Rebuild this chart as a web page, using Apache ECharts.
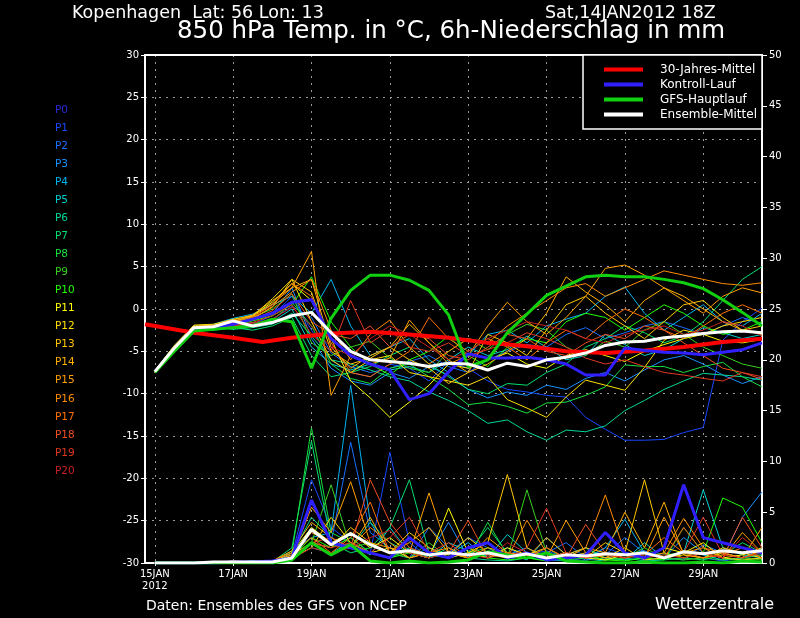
<!DOCTYPE html>
<html>
<head>
<meta charset="utf-8">
<script src="https://cdn.jsdelivr.net/npm/echarts@6/dist/echarts.min.js"></script>
<style>
  html, body { margin: 0; padding: 0; background: #000; }
  #chart { width: 800px; height: 618px; }
</style>
</head>
<body>
<div id="chart"></div>
<script>
/* GFS ensemble plume for Kopenhagen: 850 hPa temperature + 6h precipitation */
const FONT = "DejaVu Sans";

// time in days after 15JAN 00Z, 12-hourly
const days = [0, 0.5, 1, 1.5, 2, 2.5, 3, 3.5, 4, 4.5, 5, 5.5, 6, 6.5, 7, 7.5,
  8, 8.5, 9, 9.5, 10, 10.5, 11, 11.5, 12, 12.5, 13, 13.5, 14, 14.5, 15, 15.5];
const tickDays = [0, 2, 4, 6, 8, 10, 12, 14];
const tickLabels = ["15JAN\n2012", "17JAN", "19JAN", "21JAN", "23JAN", "25JAN", "27JAN", "29JAN"];

const memberColors = ["#2828d8", "#1848ff", "#1870ff", "#1890ff", "#00b4f0", "#00d0d0", "#00d898",
  "#00e070", "#18e040", "#38d020", "#20ff00", "#ffff00", "#ffe000", "#ffc800", "#ffb000",
  "#ffa000", "#ff8c00", "#ff7000", "#f05020", "#e03820", "#c82020"];

// 850 hPa temperature per member P0..P20 (°C)
const memberTemp = [
  [-7.4,-4.8,-2.3,-2.2,-1.8,-1.2,-0.5,0.8, 1.1,-3.5,-5.5,-6.5,-7.2,-10.7,-10.0,-7.4, -5.3,-5.8,-5.8,-5.7,-6.0,-6.5,-7.8,-7.8, -4.6,-4.9,-5.1,-5.2,-5.4,-5.1,-4.8,-4.0],
  [-7.3,-4.5,-2.0,-1.9,-2.3,-1.8,-0.8,1.5, -2.5,-6.0,-7.5,-8.0,-6.5,-7.0,-8.5,-6.2, -7.0,-8.5,-9.5,-9.8,-10.2,-10.4,-12.8,-14.2, -15.5,-15.5,-15.4,-14.6,-14.0,-3.7,-1.5,0.1],
  [-7.5,-4.7,-2.4,-2.0,-1.6,-1.9,-1.2,0.3, -1.0,-5.2,-6.8,-7.5,-7.0,-6.2,-5.5,-6.8, -7.5,-6.0,-5.0,-4.2,-4.5,-3.0,-2.2,-3.5, -2.8,-2.0,-1.5,-2.2,-3.0,-2.0,-1.0,-1.8],
  [-7.4,-4.4,-2.1,-2.3,-1.7,-1.3,-0.6,2.5, -3.5,-7.0,-8.5,-9.0,-7.5,-8.2,-6.8,-7.8, -9.5,-10.5,-9.8,-10.2,-9.0,-9.5,-8.2,-7.5, -8.5,-7.2,-6.0,-5.5,-6.5,-7.8,-8.8,-8.0],
  [-7.3,-4.3,-2.0,-1.8,-1.1,-0.6,0.5,1.5, -0.5,3.5,-2.0,-5.5,-4.5,-3.5,-6.0,-7.5, -5.5,-3.0,-2.5,-4.0,-2.0,-1.2,-0.5,1.5, 2.6,-0.5,-2.5,-1.0,0.5,-1.5,-2.0,-0.5],
  [-7.4,-4.6,-2.5,-2.4,-2.1,-1.6,-1.5,0.0, -4.5,-6.5,-7.2,-6.5,-7.2,-6.8,-7.5,-6.0, -4.5,-5.5,-4.8,-3.2,-4.5,-6.0,-5.5,-3.0, -4.2,-5.5,-4.8,-3.5,-2.2,-2.8,-3.5,-3.0],
  [-7.4,-4.5,-2.4,-2.2,-2.4,-2.2,-1.8,-0.5, -3.2,-6.0,-6.5,-7.2,-8.0,-8.5,-9.8,-10.8, -12.0,-13.5,-13.1,-14.5,-15.5,-14.3,-14.5,-13.8, -12.0,-10.8,-9.5,-8.5,-7.6,-7.8,-8.0,-8.4],
  [-7.5,-4.8,-2.6,-2.5,-2.2,-2.5,-2.0,-1.0, -5.5,-8.0,-7.5,-6.8,-5.5,-4.5,-6.5,-8.0, -9.5,-10.0,-8.8,-9.0,-7.5,-6.5,-4.5,-3.5, -2.0,-2.8,-4.0,-3.2,-1.5,1.0,3.5,5.0],
  [-7.4,-4.7,-2.3,-2.4,-2.0,-1.8,-1.4,0.8, -2.0,-6.5,-8.2,-8.8,-7.0,-6.5,-8.0,-9.5, -11.3,-11.0,-11.5,-12.3,-11.1,-11.0,-10.2,-9.2, -6.6,-6.8,-6.8,-7.5,-6.8,-6.3,-8.0,-9.2],
  [-7.3,-4.4,-2.1,-2.0,-1.5,-1.0,0.0,1.8, -4.0,-5.5,-4.5,-3.8,-5.8,-7.0,-7.5,-5.0, -3.5,-4.8,-3.0,-1.8,-2.5,-4.5,-5.5,-3.8, -4.5,-2.5,-1.5,-3.0,-4.5,-5.5,-6.5,-7.0],
  [-7.5,-4.9,-2.6,-2.2,-2.0,-1.4,-0.8,0.5, 3.8,-1.5,-4.5,-6.5,-7.8,-6.0,-5.0,-3.2, -5.5,-6.8,-4.5,-3.5,-4.0,-1.5,-0.5,-1.0, -2.5,-1.0,0.5,-0.5,-2.0,-3.0,-2.5,-1.5],
  [-7.4,-4.6,-2.2,-2.0,-1.5,-0.8,0.8,3.0, 1.0,-3.5,-8.5,-10.5,-12.8,-11.0,-9.0,-6.5, -7.0,-6.0,-5.2,-6.5,-7.0,-5.5,-4.8,-5.5, -6.2,-5.0,-4.2,-3.5,-3.0,-3.8,-4.0,-3.6],
  [-7.3,-4.3,-1.9,-1.8,-1.2,-0.8,1.2,3.5, -1.5,-6.0,-7.5,-6.0,-5.5,-7.5,-8.0,-8.5, -9.0,-8.0,-10.7,-11.7,-12.8,-10.4,-8.4,-9.0, -9.6,-6.9,-3.7,-2.5,-3.0,-2.0,-1.5,-1.0],
  [-7.5,-4.7,-2.4,-2.2,-1.6,-1.1,0.2,3.5, 2.0,-5.0,-6.5,-5.8,-4.5,-6.0,-7.0,-8.8, -7.5,-3.0,-4.0,-5.5,-2.5,0.5,1.5,-0.5, -2.0,-3.5,-1.5,0.5,1.0,-1.0,-2.5,-2.0],
  [-7.4,-4.5,-2.0,-1.9,-1.3,-0.7,1.0,2.5, 3.5,-4.5,-7.0,-5.5,-4.5,-1.8,-4.0,-6.0, -7.5,-6.5,-5.0,-3.5,-0.5,3.8,2.0,0.5, -1.5,1.0,2.5,1.5,0.0,-1.5,-2.5,-3.0],
  [-7.4,-4.5,-2.2,-2.0,-1.4,-0.9,0.6,2.5, 6.8,-10.2,-5.5,-6.5,-5.8,-1.3,-4.0,-6.5, -5.5,-2.0,0.8,-1.5,-3.0,-1.0,1.5,4.8, 5.2,4.0,2.5,1.0,-0.5,1.5,2.5,1.9],
  [-7.5,-4.6,-2.3,-2.1,-1.5,-1.2,0.3,2.0, 3.5,-2.5,-6.0,-3.0,-1.3,-4.5,-6.5,-5.0, -3.5,-4.0,-2.0,-0.5,1.0,2.5,3.0,1.5, 2.5,3.5,4.5,4.0,3.5,3.0,2.8,3.1],
  [-7.4,-4.4,-2.1,-2.0,-1.6,-1.0,0.5,3.0, 1.5,-4.0,-7.5,-8.0,-6.5,-5.0,-1.0,-3.5, -5.0,-3.5,-4.5,-6.0,-4.0,-2.5,-3.5,-1.5, 0.0,-1.0,-2.5,-3.5,-2.0,-0.5,0.5,-0.5],
  [-7.3,-4.5,-2.2,-2.1,-1.6,-1.3,-0.2,1.8, -1.5,-3.0,-3.5,-2.0,-4.5,-3.0,-3.5,-5.5, -6.0,-4.5,-3.0,-3.5,-5.0,-5.5,-4.0,-3.0, -3.5,-2.0,-2.5,-4.0,-5.5,-7.0,-7.5,-8.3],
  [-7.4,-4.6,-2.4,-2.3,-1.9,-1.6,-0.8,0.5, -3.0,-5.0,1.0,-4.0,-2.5,-4.5,-5.0,-4.0, -5.5,-4.8,-4.0,-2.8,-3.5,-4.5,-5.8,-6.5, -6.0,-6.8,-7.5,-7.8,-8.2,-8.5,-7.5,-8.0],
  [-7.5,-4.7,-2.5,-2.3,-2.0,-1.7,-1.2,0.2, -2.0,-4.5,-5.5,-3.5,-2.0,-3.0,-4.5,-6.0, -5.0,-3.5,-2.5,-1.5,-2.0,-2.5,-3.5,-4.0, -3.0,-2.5,-2.0,-3.0,-2.5,-1.5,-2.0,-3.2],
];

// 6h precipitation per member P0..P20 (mm)
const memberPrecip = [
  [0,0,0,0,0.1,0.1,0.2,0.5, 6.0,2.0,1.5,1.0,0.5,2.5,1.0,0.5, 1.5,2.0,0.5,1.0,0.3,0.5,0.8,3.0, 1.0,0.5,1.5,7.7,2.5,2.0,1.5,1.0],
  [0,0,0,0,0,0.2,0.1,0.8, 8.2,3.5,2.0,1.0,10.9,2.0,0.5,1.0, 2.5,1.5,0.3,0.8,1.2,0.5,0.2,1.5, 0.8,0.3,0.5,1.0,0.5,0.2,0.5,1.5],
  [0,0,0,0,0.1,0,0.2,1.0, 3.0,2.0,11.9,3.0,1.5,0.5,3.5,1.5, 0.5,0.8,1.5,0.5,1.0,2.0,0.5,0.8, 2.5,1.0,0.5,0.3,1.8,1.0,0.5,0.8],
  [0,0,0,0,0,0.1,0.1,0.6, 2.0,1.5,2.5,1.0,0.5,1.5,0.8,4.0, 0.5,1.0,0.8,1.5,0.5,1.0,0.3,0.5, 0.8,1.2,0.5,2.5,1.0,0.5,4.5,7.0],
  [0,0,0,0,0.2,0.1,0,1.2, 2.5,3.0,17.5,4.0,1.0,0.5,1.5,0.8, 2.0,0.5,1.0,0.3,2.5,0.8,0.5,1.5, 4.3,1.0,0.5,1.2,0.8,0.3,0.5,1.0],
  [0,0,0,0,0,0.2,0.1,0.5, 1.5,1.0,2.0,0.8,3.5,1.0,0.5,2.0, 1.2,0.5,2.8,1.0,0.5,0.8,1.5,0.5, 0.3,2.0,0.5,1.0,7.2,1.5,0.8,0.5],
  [0,0,0,0,0,0,0.2,0.8, 4.5,2.5,1.5,4.0,2.0,1.0,0.5,1.5, 0.5,0.3,0.2,0.5,0.3,0.2,0.1,0.3, 0.5,0.2,0.3,0.5,1.0,0.5,0.3,0.5],
  [0,0,0,0,0.1,0,0.1,1.5, 12.0,2.0,1.0,1.5,3.5,8.2,1.0,0.5, 1.0,3.5,1.0,0.5,0.8,0.5,1.5,0.5, 0.3,0.5,1.0,0.5,0.3,0.8,2.0,1.0],
  [0,0,0,0,0,0.1,0.2,1.0, 13.3,3.0,2.0,1.0,0.5,1.5,0.5,1.0, 0.5,4.0,0.8,0.5,1.5,0.3,0.5,0.8, 1.0,0.5,0.8,1.0,0.5,0.3,0.5,0.8],
  [0,0,0,0,0,0,0.1,0.5, 2.0,7.7,1.5,2.0,1.0,0.5,2.0,0.5, 1.0,1.5,0.5,7.2,1.0,0.5,0.8,0.3, 0.5,1.5,0.5,0.3,0.5,1.0,0.5,0.3],
  [0,0,0,0,0.1,0.2,0,0.6, 2.5,1.5,2.5,1.0,0.5,1.0,0.8,0.5, 1.5,0.5,0.3,0.5,0.2,0.5,0.8,0.3, 0.2,0.5,0.3,3.5,1.0,6.4,5.5,2.0],
  [0,0,0,0,0.2,0,0.1,1.0, 3.5,2.0,3.0,1.5,2.5,1.0,0.5,5.4, 1.0,0.5,1.5,0.8,0.5,1.0,0.5,0.3, 0.8,0.5,1.5,1.0,2.0,0.5,0.8,1.5],
  [0,0,0,0,0,0.1,0.2,0.5, 1.5,4.5,2.0,1.0,1.5,0.5,1.0,0.8, 2.5,1.0,0.5,0.8,1.5,0.5,1.0,0.5, 1.5,0.3,0.5,0.8,0.5,1.5,1.0,0.5],
  [0,0,0,0,0,0.1,0,0.8, 2.0,1.5,3.5,2.0,1.0,3.0,1.5,0.5, 1.0,2.0,8.7,1.5,0.5,1.0,0.5,2.0, 1.0,8.2,1.0,0.5,1.0,0.5,0.3,0.5],
  [0,0,0,0,0.1,0,0.2,1.2, 4.0,2.5,1.5,4.5,1.0,2.0,3.5,1.0, 0.5,1.5,1.0,0.5,2.5,0.8,1.5,1.0, 5.0,1.5,6.0,0.8,0.5,1.0,0.5,3.5],
  [0,0,0,0,0,0.1,0.1,0.5, 5.5,3.0,8.0,2.0,1.5,1.0,6.9,1.0, 0.5,2.5,1.0,0.8,0.5,4.2,1.0,0.5, 0.8,0.5,4.5,1.0,1.5,0.5,3.0,1.0],
  [0,0,0,0,0.2,0.1,0,0.8, 3.0,2.0,1.5,3.5,2.0,0.5,1.0,1.5, 0.5,1.0,0.5,4.2,1.0,0.5,1.5,6.7, 1.0,0.5,1.0,4.4,1.5,1.0,0.5,1.2],
  [0,0,0,0,0,0.1,0.2,1.0, 2.5,1.0,2.5,6.0,1.0,2.5,1.0,0.5, 1.5,0.8,0.5,1.0,0.5,0.8,0.5,1.0, 0.5,0.8,2.5,1.0,0.5,0.8,1.5,0.5],
  [0,0,0,0,0,0,0.1,0.5, 2.0,2.5,1.5,8.2,4.0,1.5,0.8,1.0, 4.2,0.5,1.0,0.5,1.5,0.5,3.8,1.0, 0.5,1.0,0.5,3.5,1.0,0.5,4.5,1.5],
  [0,0,0,0,0.1,0,0,0.6, 2.0,1.5,2.0,1.0,2.5,4.5,1.0,2.0, 0.5,1.0,0.5,1.5,5.4,1.0,0.5,0.8, 0.5,1.0,0.5,1.0,4.5,0.8,0.5,1.0],
  [0,0,0,0,0,0.1,0.1,0.4, 1.5,1.0,1.5,2.5,3.2,1.0,0.5,1.0, 0.8,0.5,2.0,1.0,0.5,1.0,0.5,3.0, 1.0,0.5,0.8,0.5,1.0,0.5,2.5,1.0],
];

// 30-year climatology (own time steps)
const climDays = [-0.25, 1, 2, 2.75, 3.5, 4.5, 5.5, 6.5, 7.5, 8.5, 9.5, 10.5, 11.5, 12.5, 13.5, 14.5, 15.5];
const climTemp = [-1.8, -2.8, -3.4, -3.9, -3.4, -2.9, -2.7, -3.0, -3.4, -4.0, -4.4, -5.0, -5.2, -4.9, -4.5, -3.9, -3.5];

// control run, GFS main run, ensemble mean
const ctrlTemp = [-7.4,-4.8,-2.3,-2.2,-1.8,-1.2,-0.5,0.8, 1.1,-3.5,-5.5,-6.5,-7.2,-10.7,-10.0,-7.4, -5.3,-5.8,-5.8,-5.7,-6.0,-6.5,-7.8,-7.8, -4.6,-4.9,-5.1,-5.2,-5.4,-5.1,-4.8,-4.0];
const ctrlPrecip = [0,0,0,0,0.1,0.1,0.2,0.5, 6.2,2.0,1.5,1.0,0.5,2.5,1.0,0.5, 1.5,2.0,0.5,1.0,0.3,0.5,0.8,3.0, 1.0,0.5,1.5,7.7,2.5,2.0,1.5,1.0];
const gfsTemp = [-7.5,-5.0,-2.6,-2.4,-2.2,-2.0,-1.2,-1.5, -7.0,-1.1,2.2,4.0,4.0,3.4,2.2,-0.7, -6.8,-6.0,-2.8,-0.6,1.6,2.7,3.8,4.0, 3.8,3.8,3.5,3.1,2.4,1.1,-0.4,-2.0];
const gfsPrecip = [0,0,0,0,0,0,0,0.3, 2.0,0.8,1.8,0.2,0,0.2,0,0.1, 0.3,1.1,0.8,0.5,1.0,0.2,0.1,0, 0,0.1,0,0,0.1,0,0.2,0.1];
const meanTemp = [-7.4,-4.6,-2.2,-2.1,-1.4,-2.0,-1.6,-0.8, -0.4,-2.8,-5.0,-6.0,-6.2,-6.4,-6.8,-6.4, -6.5,-7.2,-6.4,-6.8,-6.0,-5.7,-5.2,-4.3, -3.9,-3.8,-3.4,-3.2,-2.9,-2.7,-2.6,-2.8];
const meanPrecip = [0,0,0,0.1,0.1,0.1,0.1,0.5, 3.3,1.8,2.9,1.8,1.0,1.2,0.8,1.0, 0.8,1.0,0.6,0.9,0.5,0.8,0.7,0.9, 0.8,1.0,0.5,1.1,0.9,1.2,1.0,1.2];

const pair = (xs, ys) => xs.map((x, i) => [x, ys[i]]);
const lineSeries = (name, xs, ys, color, width, yAxisIndex) => ({
  name, type: "line", xAxisIndex: 0, yAxisIndex, data: pair(xs, ys),
  showSymbol: false, symbol: "none", silent: true,
  lineStyle: { color, width }, itemStyle: { color },
});

const series = [];
memberTemp.forEach((t, i) => series.push(lineSeries("P" + i, days, t, memberColors[i], 1, 0)));
memberPrecip.forEach((p, i) => series.push(lineSeries("P" + i, days, p, memberColors[i], 1, 1)));
series.push(lineSeries("30-Jahres-Mittel", climDays, climTemp, "#ff0000", 4, 0));
series.push(lineSeries("Kontroll-Lauf", days, ctrlTemp, "#3020ff", 3, 0));
series.push(lineSeries("Kontroll-Lauf", days, ctrlPrecip, "#3020ff", 3, 1));
series.push(lineSeries("GFS-Hauptlauf", days, gfsTemp, "#10d010", 3, 0));
series.push(lineSeries("GFS-Hauptlauf", days, gfsPrecip, "#10d010", 3, 1));
series.push(lineSeries("Ensemble-Mittel", days, meanTemp, "#ffffff", 3, 0));
series.push(lineSeries("Ensemble-Mittel", days, meanPrecip, "#ffffff", 3, 1));

const white = "#ffffff";
const gridDash = { color: "#9a9a9a", width: 1, type: [2, 5] };
const txt = (size) => ({ color: white, fontSize: size, fontFamily: FONT, fontWeight: "normal" });

const chart = echarts.init(document.getElementById("chart"));
chart.setOption({
  backgroundColor: "#000",
  animation: false,
  title: [
    { text: "Kopenhagen  Lat: 56 Lon: 13", left: 72, top: 4, textStyle: txt(17.5), padding: 0 },
    { text: "Sat,14JAN2012 18Z", left: 545, top: 4, textStyle: txt(17.5), padding: 0 },
    { text: "850 hPa Temp. in °C, 6h-Niederschlag in mm", left: 177, top: 19, textStyle: txt(24.5), padding: 0 },
    { text: "Daten: Ensembles des GFS von NCEP", left: 146, top: 599, textStyle: txt(14), padding: 0 },
    { text: "Wetterzentrale", left: 655, top: 597, textStyle: txt(16), padding: 0 },
  ],
  legend: [
    {
      data: ["30-Jahres-Mittel", "Kontroll-Lauf", "GFS-Hauptlauf", "Ensemble-Mittel"],
      orient: "vertical", right: 38, top: 55, z: 10,
      backgroundColor: "#000", borderColor: white, borderWidth: 1.5,
      padding: [8, 5, 8, 21], itemWidth: 39, itemHeight: 4, itemGap: 2, icon: "rect",
      selectedMode: false,
      textStyle: { color: white, fontSize: 12, fontFamily: FONT, lineHeight: 13, padding: [0, 0, 0, 12] },
    },
    {
      data: memberColors.map((c, i) => ({ name: "P" + i, textStyle: { color: c } })),
      orient: "vertical", left: 50, top: 103, padding: 0,
      itemWidth: 0, itemHeight: 0, itemGap: 4.05, icon: "rect",
      selectedMode: false,
      textStyle: { fontSize: 10.5, fontFamily: FONT, lineHeight: 14 },
    },
  ],
  grid: { left: 145, right: 38, top: 55, bottom: 55 },
  xAxis: [
    {
      type: "value", min: -0.25, max: 15.5, position: "bottom",
      axisLine: { onZero: false, lineStyle: { color: white, width: 2 } },
      axisTick: { customValues: tickDays, length: 3, lineStyle: { color: white } },
      axisLabel: {
        customValues: tickDays, color: white, fontSize: 10, fontFamily: FONT, lineHeight: 12, margin: 5,
        formatter: (v) => tickLabels[tickDays.indexOf(v)] || "",
      },
      splitLine: { show: true, lineStyle: gridDash },
    },
    {
      type: "value", min: -0.25, max: 15.5, position: "top",
      axisLine: { show: true, onZero: false, lineStyle: { color: white, width: 2 } },
      axisTick: { show: false }, axisLabel: { show: false }, splitLine: { show: false },
    },
  ],
  yAxis: [
    {
      type: "value", min: -30, max: 30, interval: 5, position: "left",
      axisLine: { show: true, onZero: false, lineStyle: { color: white, width: 2 } },
      axisTick: { show: true, length: 4, lineStyle: { color: white } },
      axisLabel: { color: white, fontSize: 10, fontFamily: FONT, margin: 6 },
      splitLine: { show: true, lineStyle: gridDash },
    },
    {
      type: "value", min: 0, max: 50, interval: 5, position: "right",
      axisLine: { show: true, onZero: false, lineStyle: { color: white, width: 2 } },
      axisTick: { show: true, length: 5, lineStyle: { color: white } },
      axisLabel: { color: white, fontSize: 10, fontFamily: FONT, margin: 7 },
      splitLine: { show: false },
    },
  ],
  series,
});
</script>
</body>
</html>
